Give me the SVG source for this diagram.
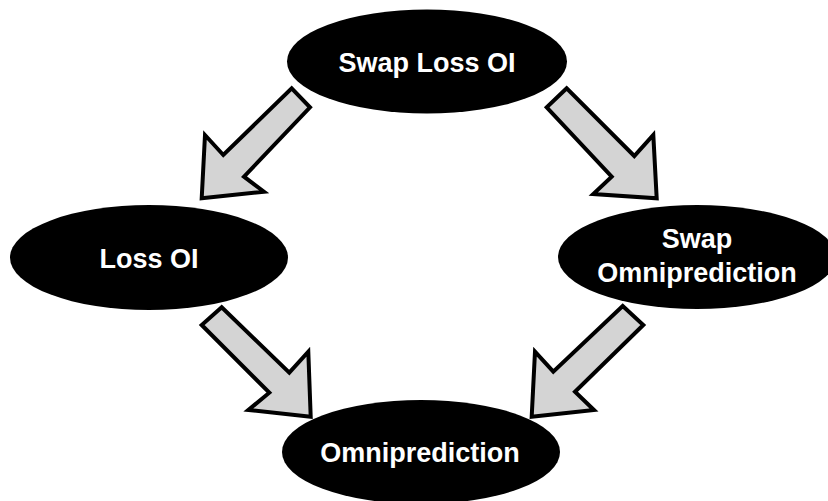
<svg xmlns="http://www.w3.org/2000/svg" width="828" height="501" viewBox="0 0 828 501">
<style>
.arrow{fill:#d4d4d4;stroke:#000;stroke-width:4;stroke-linejoin:miter}
.node ellipse{fill:#000}
.node text{fill:#fff;font-family:"Liberation Sans",Arial,sans-serif;font-weight:bold;font-size:27px;text-anchor:middle}
</style>
<rect width="828" height="501" fill="#fff"/>
<g id="connectors">
<polygon class="arrow" points="291.7,88.3 310,107.3 244,176.7 264,191.7 201.7,198.3 205,135 223.3,155"/>
<polygon class="arrow" points="566.7,88.3 546.7,107.3 611.7,176.7 593.3,194 656.7,198.3 653.3,135 634.3,156"/>
<polygon class="arrow" points="221.7,307.3 201.7,325 269.3,392.7 248.3,410 310.7,416.7 308.3,351.7 289.3,372.7"/>
<polygon class="arrow" points="622.7,306 643.3,325 575,391.7 594,410 531.7,416.7 535,351.7 553.3,371.7"/>
</g>
<g id="swap-loss-oi" class="node">
<ellipse cx="427" cy="61.5" rx="140" ry="52"/>
<text x="427" y="72">Swap Loss OI</text>
</g>
<g id="loss-oi" class="node">
<ellipse cx="149" cy="257.5" rx="139" ry="52.5"/>
<text x="149" y="268">Loss OI</text>
</g>
<g id="swap-omniprediction" class="node">
<ellipse cx="697" cy="257" rx="139" ry="52"/>
<text x="697" y="248">Swap</text>
<text x="697" y="282">Omniprediction</text>
</g>
<g id="omniprediction" class="node">
<ellipse cx="421" cy="452" rx="139" ry="52"/>
<text x="420" y="462">Omniprediction</text>
</g>
</svg>
